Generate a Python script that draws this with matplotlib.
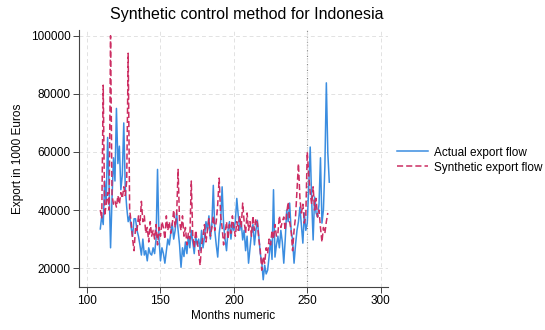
import matplotlib
matplotlib.use("Agg")
import matplotlib.pyplot as plt
import numpy as np

plt.rcParams["font.family"] = ["Liberation Sans", "DejaVu Sans"]

# monthly export flows, values in 1000 Euros (read in thousands)
first_month = 109
actual_k = [
    33.5, 38, 35, 50, 42, 65, 48, 27, 44, 58,
    50, 75, 56, 62, 47, 52, 70, 48, 41, 36,
    38, 34, 31, 37, 37, 33, 31, 28, 24.5, 30,
    24.5, 26, 22.5, 27, 25, 24.5, 27, 25, 30, 54,
    30, 22.5, 27, 25, 21.7, 26, 30, 28, 32, 35.5,
    30, 33, 39, 33, 28, 20.3, 27, 24, 29, 25,
    31, 27, 33, 29, 25, 31, 28, 30, 26, 33,
    27, 30.7, 36, 33, 38, 30, 35, 48.5, 33, 28,
    23.8, 32, 36, 48, 35, 30, 26, 33, 36, 30,
    35, 33, 36, 44, 38, 33, 36, 29.7, 33, 26,
    31, 21.7, 27, 32, 35, 28, 33, 36.5, 31, 25,
    22, 16, 21, 18, 19.3, 24, 29.7, 23, 47, 23.8,
    28, 31, 27, 33, 29, 21.7, 30, 40, 36, 42.4,
    33, 29.7, 21.7, 28, 33, 36, 41, 35, 28.6, 39,
    33, 35.5, 48, 61.7, 43.4, 29.7, 44.5, 39, 37.6, 42,
    58, 35.5, 40, 55, 83.8, 59.7, 49.6,
]
synthetic_k = [
    40, 37, 83, 38, 42, 46, 40, 100, 45, 42,
    43, 41, 45, 42, 46, 44, 48, 45, 50, 94,
    40, 36, 30, 26, 34, 33, 38, 35, 43, 36,
    38, 32, 34, 29, 36, 31, 33, 30, 35, 28,
    34, 31, 36, 34, 30, 38, 33, 36, 32, 35,
    40, 34, 38, 54, 36, 33, 38, 31, 34, 28,
    32, 30, 50, 31, 27, 33, 29, 26, 21, 28,
    31, 35, 29, 33, 37, 31, 34, 38, 33, 36,
    42, 51, 38, 34, 28, 32, 36, 30, 35, 32,
    38, 34, 31, 36, 33, 38, 34, 42.4, 36, 32,
    39, 33, 36, 31, 38, 33, 37, 35.5, 30, 26,
    19.3, 24, 21.7, 27, 25, 30, 28, 33, 30, 35,
    31, 32, 38, 34, 36, 37.6, 33, 39, 42.7, 36,
    33, 26, 33, 37.6, 47, 56, 44, 39, 42, 35.5,
    38, 60, 52, 46, 42, 48, 40, 44, 37.6, 40,
    34, 29, 34, 32, 36, 39,
]
treatment_month = 250
x_ticks = [100, 150, 200, 250, 300]
y_ticks = [20000, 40000, 60000, 80000, 100000]

actual = np.array(actual_k) * 1000
synthetic = np.array(synthetic_k) * 1000
months_actual = np.arange(first_month, first_month + len(actual))
months_synth = np.arange(first_month, first_month + len(synthetic))

fig = plt.figure(figsize=(5.45, 3.30), dpi=100)
ax = fig.add_axes([79 / 545, 43 / 330, 309 / 545, 257 / 330])

ax.plot(months_actual, actual, color="#3b8de0", lw=1.1, label="Actual export flow")
ax.plot(months_synth, synthetic, color="#cc2d62", lw=1.1, ls=(0, (4, 2)),
        label="Synthetic export flow")
ax.axvline(treatment_month, color="#777777", lw=0.8, ls=(0, (1, 1.5)), zorder=0)

ax.set_xlim(94.5, 305)
ax.set_ylim(13500, 102000)
ax.set_xticks(x_ticks)
ax.set_yticks(y_ticks)
ax.grid(True, color="#e2e2e2", lw=0.7, ls=(0, (4, 3)))
ax.set_axisbelow(True)
for side in ["top", "right"]:
    ax.spines[side].set_visible(False)
for side in ["left", "bottom"]:
    ax.spines[side].set_color("#444444")
    ax.spines[side].set_linewidth(0.8)
ax.tick_params(labelsize=8.5, color="#444444", length=4, width=0.7, pad=2)

fig.text(247 / 545, 1 - 15 / 330, "Synthetic control method for Indonesia",
         fontsize=11.5, ha="center", va="center")
ax.set_xlabel("Months numeric", fontsize=8.5, labelpad=2)
ax.set_ylabel("Export in 1000 Euros", fontsize=8.5, labelpad=5)

ax.legend(loc="center left", bbox_to_anchor=(0.995, 0.494), frameon=False,
          fontsize=8.5, handlelength=2.6, handletextpad=0.5, labelspacing=0.25)

fig.savefig("out.png", dpi=100)
plt.close(fig)
